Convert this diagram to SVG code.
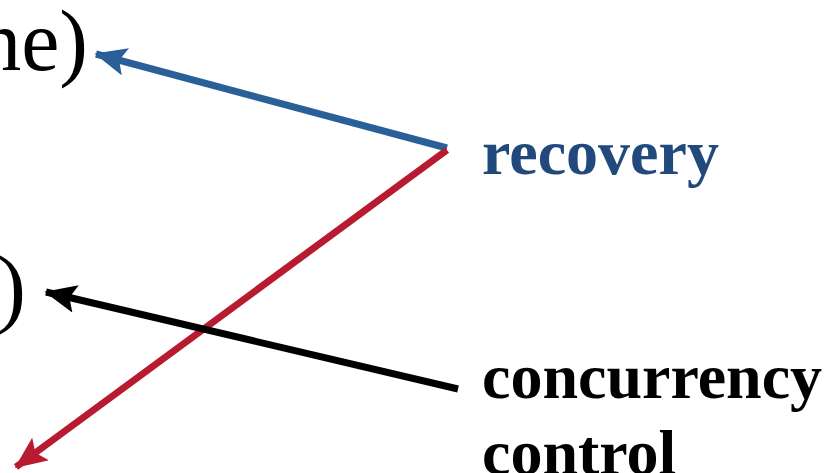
<svg xmlns="http://www.w3.org/2000/svg" width="825" height="473" viewBox="0 0 825 473">
<style>
.t{font-family:"Liberation Serif","Times New Roman",serif;}
.big{font-size:86px;fill:#000;}
.lbl{font-size:64px;font-weight:bold;}
</style>
<defs>
<marker id="ab" viewBox="0 0 10 10" refX="9.5" refY="5" markerWidth="32" markerHeight="28" markerUnits="userSpaceOnUse" orient="auto" preserveAspectRatio="none"><path d="M0,0L10,5L0,10L2,5z" fill="#2a6098"/></marker>
<marker id="ar" viewBox="0 0 10 10" refX="9.5" refY="5" markerWidth="32" markerHeight="28" markerUnits="userSpaceOnUse" orient="auto" preserveAspectRatio="none"><path d="M0,0L10,5L0,10L2,5z" fill="#b81a2f"/></marker>
<marker id="ak" viewBox="0 0 10 10" refX="9.5" refY="5" markerWidth="32" markerHeight="28" markerUnits="userSpaceOnUse" orient="auto" preserveAspectRatio="none"><path d="M0,0L10,5L0,10L2,5z" fill="#000"/></marker>
</defs>
<g id="text-top"><text class="t big" x="88" y="70" text-anchor="end">ne)</text></g>
<g id="text-mid"><text class="t big" x="26" y="316" text-anchor="end">)</text></g>
<g id="recovery"><text class="t lbl" x="482" y="174" fill="#21497c">recovery</text></g>
<g id="concurrency"><text class="t lbl" x="482" y="398" fill="#000">concurrency</text><text class="t lbl" x="482" y="474" fill="#000">control</text></g>
<g id="connectors" fill="none" stroke-width="7">
<line x1="447" y1="148" x2="96" y2="54" stroke="#2a6098" marker-end="url(#ab)"/>
<line x1="447" y1="150" x2="16" y2="467" stroke="#b81a2f" marker-end="url(#ar)"/>
<line x1="458" y1="389" x2="46" y2="292" stroke="#000" marker-end="url(#ak)"/>
</g>
</svg>
